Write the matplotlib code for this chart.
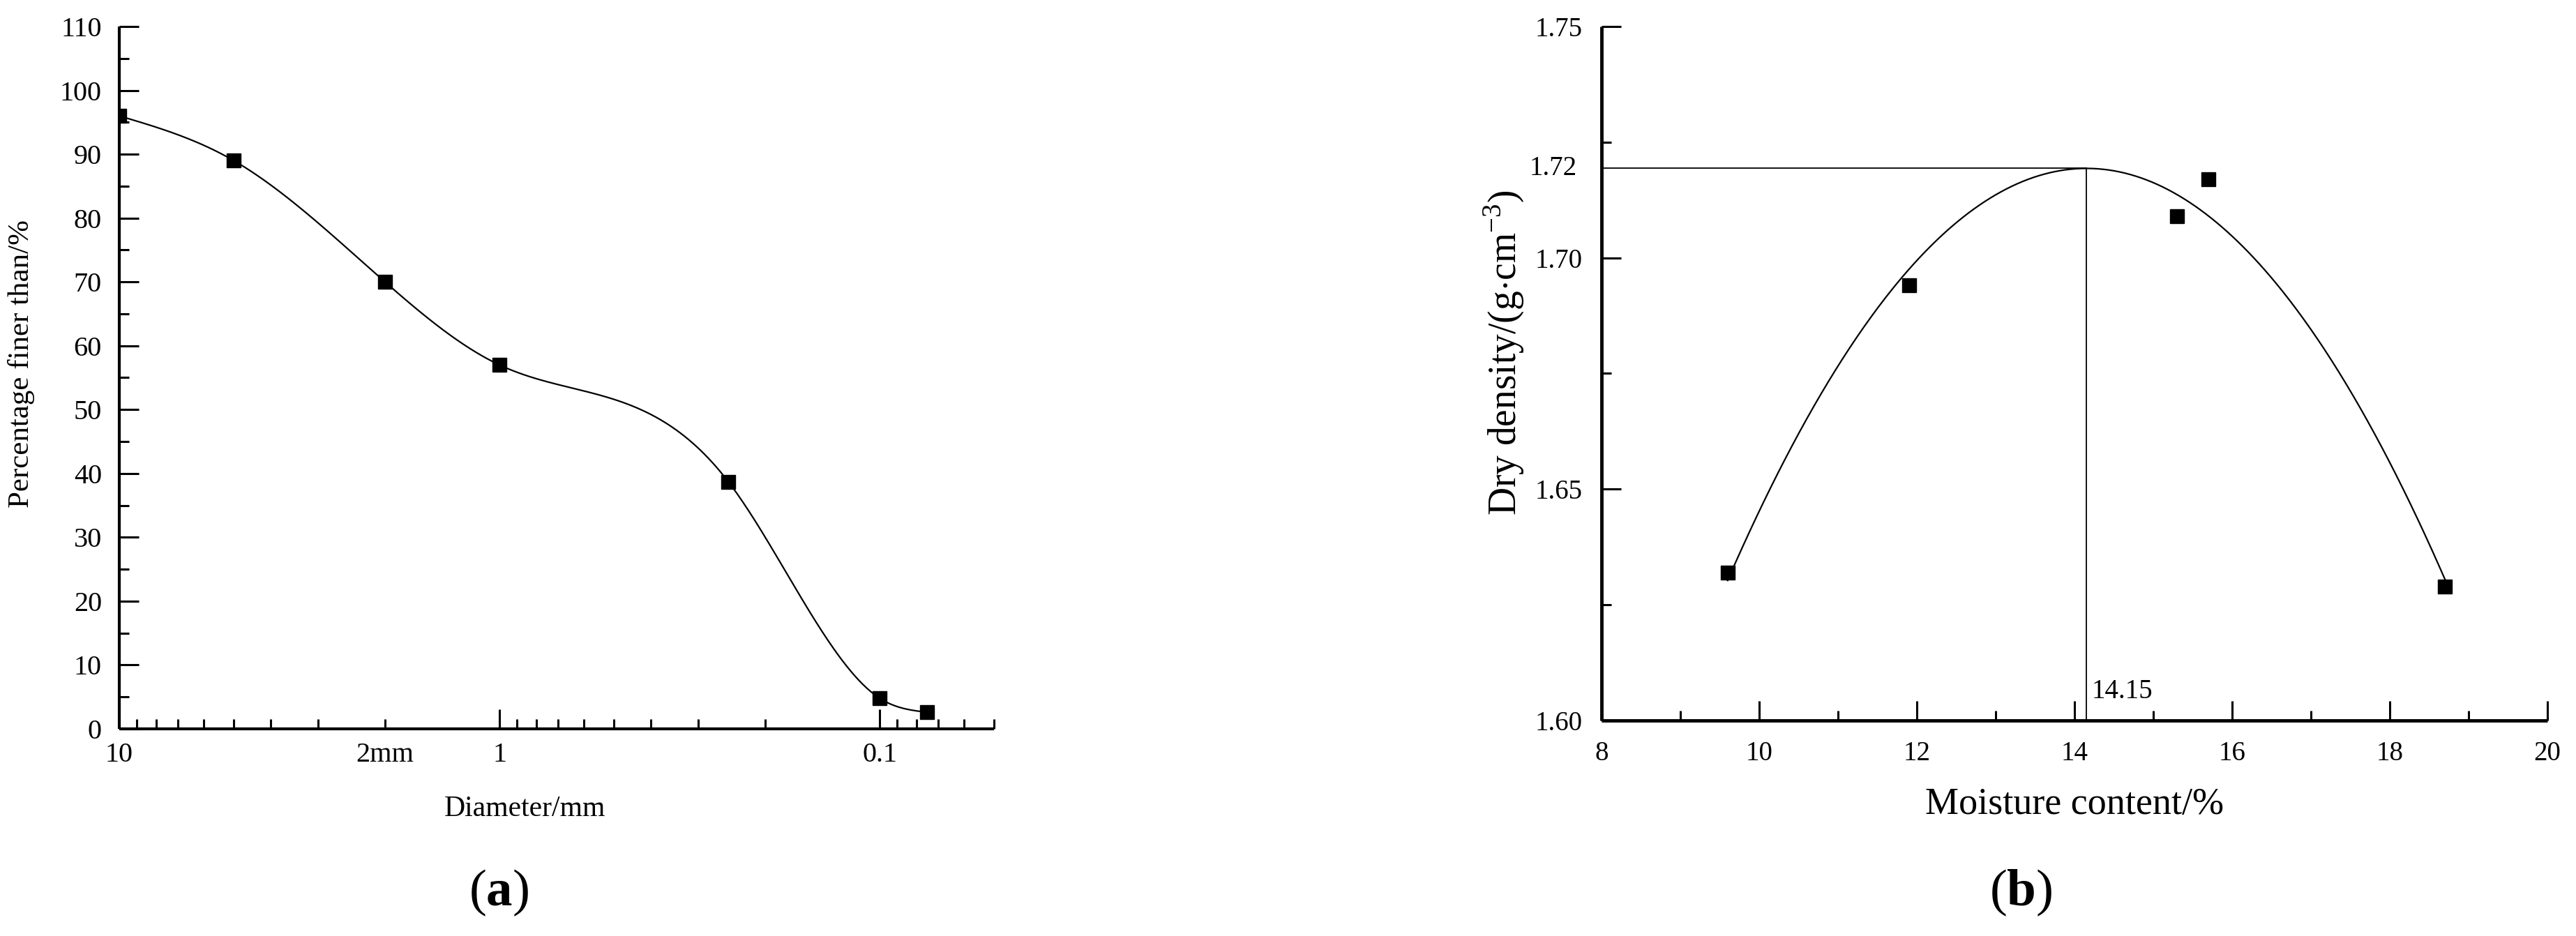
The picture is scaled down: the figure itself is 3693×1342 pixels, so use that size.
import numpy as np
import matplotlib
matplotlib.use("Agg")
import matplotlib.pyplot as plt
import matplotlib.transforms as mtransforms
from matplotlib.ticker import MultipleLocator, FixedLocator, LogLocator, NullFormatter, FormatStrFormatter

plt.rcParams["font.family"] = ["Liberation Serif", "DejaVu Serif"]
plt.rcParams["mathtext.fontset"] = "custom"
plt.rcParams["mathtext.rm"] = "Liberation Serif"
plt.rcParams["mathtext.bf"] = "Liberation Serif:bold"

# (a) grain size distribution
diameter_mm = [10, 5, 2, 1, 0.25, 0.1, 0.075]
percent_finer = [96.0, 89.0, 70.0, 57.0, 38.7, 4.8, 2.6]
diameter_ticks = [10, 2, 1, 0.1]
diameter_ticklabels = ["10", "2mm", "1", "0.1"]

# (b) compaction test
moisture = [9.6, 11.9, 15.3, 15.7, 18.7]
dry_density = [1.632, 1.694, 1.709, 1.717, 1.629]
opt_moisture = 14.15
opt_moisture_label = "14.15"
max_density_label = "1.72"


def natural_spline(x, y, xs):
    x = np.asarray(x, float)
    y = np.asarray(y, float)
    n = len(x)
    h = np.diff(x)
    A = np.zeros((n, n))
    b = np.zeros(n)
    A[0, 0] = A[-1, -1] = 1.0
    for i in range(1, n - 1):
        A[i, i - 1] = h[i - 1]
        A[i, i] = 2 * (h[i - 1] + h[i])
        A[i, i + 1] = h[i]
        b[i] = 6 * ((y[i + 1] - y[i]) / h[i] - (y[i] - y[i - 1]) / h[i - 1])
    M = np.linalg.solve(A, b)
    idx = np.clip(np.searchsorted(x, xs) - 1, 0, n - 2)
    x0, x1 = x[idx], x[idx + 1]
    hh = x1 - x0
    return (M[idx] * (x1 - xs) ** 3 / (6 * hh) + M[idx + 1] * (xs - x0) ** 3 / (6 * hh)
            + (y[idx] / hh - M[idx] * hh / 6) * (x1 - xs)
            + (y[idx + 1] / hh - M[idx + 1] * hh / 6) * (xs - x0))


def style_axes(ax, lw):
    for side in ("top", "right"):
        ax.spines[side].set_visible(False)
    for side in ("left", "bottom"):
        ax.spines[side].set_linewidth(lw)
        ax.spines[side].set_capstyle("butt")


fig = plt.figure(figsize=(36.93, 13.42), dpi=100)

# ---- panel (a)
ax1 = fig.add_axes([0.0463, 0.2213, 0.3396, 0.7504])
style_axes(ax1, 3.0)
u = -np.log10(diameter_mm)
us = np.linspace(u.min(), u.max(), 400)
ax1.plot(10 ** (-us), natural_spline(u, percent_finer, us), color="black", lw=1.6, zorder=2)
ax1.plot(diameter_mm, percent_finer, ls="none", marker="s", ms=14.5, color="black", zorder=3)
ax1.set_xscale("log")
ax1.set_xlim(10, 0.05)
ax1.set_ylim(0, 110)
ax1.xaxis.set_major_locator(FixedLocator(diameter_ticks))
ax1.set_xticklabels(diameter_ticklabels)
ax1.xaxis.set_minor_locator(LogLocator(base=10, subs=np.arange(2, 10)))
ax1.xaxis.set_minor_formatter(NullFormatter())
ax1.yaxis.set_major_locator(MultipleLocator(10))
ax1.yaxis.set_minor_locator(MultipleLocator(5))
ax1.tick_params(which="major", direction="in", length=20, width=2.2, labelsize=29)
ax1.tick_params(which="minor", direction="in", length=10, width=2.2)
ax1.tick_params(axis="y", pad=18)
ax1.tick_params(axis="x", pad=14)
for t, val in zip(ax1.xaxis.get_major_ticks(), diameter_ticks):
    if val == 2:
        t.tick1line.set_markersize(10)
ax1.set_xlabel("Diameter/mm", fontsize=30)
ax1.xaxis.label.set_va("center")
ax1.xaxis.set_label_coords(0.464, -0.114)
ax1.set_ylabel("Percentage finer than/%", fontsize=31)
ax1.yaxis.label.set_va("center")
ax1.yaxis.set_label_coords(-0.112, 0.52)

# ---- panel (b)
ax2 = fig.add_axes([0.6217, 0.2303, 0.3672, 0.7414])
style_axes(ax2, 3.5)
coef = np.polyfit(moisture, dry_density, 2)
xs = np.linspace(min(moisture), max(moisture), 400)
ax2.plot(xs, np.polyval(coef, xs), color="black", lw=1.6, zorder=2)
ax2.plot(moisture, dry_density, ls="none", marker="s", ms=14.5, color="black", zorder=3)
peak = np.polyval(coef, opt_moisture)
ax2.plot([8, opt_moisture], [peak, peak], color="black", lw=1.3, zorder=1)
ax2.plot([opt_moisture, opt_moisture], [1.60, peak], color="black", lw=1.3, zorder=1)
ax2.text(opt_moisture + 0.07, 1.6035, opt_moisture_label, fontsize=28, ha="left", va="bottom")
trans = mtransforms.blended_transform_factory(ax2.transAxes, ax2.transData)
ax2.text(-0.026, peak, max_density_label, transform=trans, fontsize=28, ha="right", va="center")
ax2.set_xlim(8, 20)
ax2.set_ylim(1.60, 1.75)
ax2.xaxis.set_major_locator(MultipleLocator(2))
ax2.xaxis.set_minor_locator(MultipleLocator(1))
ax2.yaxis.set_major_locator(MultipleLocator(0.05))
ax2.yaxis.set_minor_locator(MultipleLocator(0.025))
ax2.yaxis.set_major_formatter(FormatStrFormatter("%.2f"))
ax2.tick_params(which="major", direction="in", length=20, width=2.2, labelsize=28)
ax2.tick_params(which="minor", direction="in", length=10, width=2.2)
ax2.tick_params(axis="y", pad=20)
ax2.tick_params(axis="x", pad=21)
ax2.set_xlabel("Moisture content/%", fontsize=39)
ax2.xaxis.label.set_va("center")
ax2.xaxis.set_label_coords(0.50, -0.121)
ax2.set_ylabel(r"Dry density/(g$\cdot$cm$^{-3}$)", fontsize=40)
ax2.yaxis.label.set_va("center")
ax2.yaxis.set_label_coords(-0.1025, 0.53)

fig.text(715 / 3693, 1 - 1280 / 1342, r"($\mathbf{a}$)", fontsize=54, ha="center", va="center")
fig.text(2897 / 3693, 1 - 1280 / 1342, r"($\mathbf{b}$)", fontsize=54, ha="center", va="center")

print("vertex", -coef[1] / (2 * coef[0]), peak)
fig.savefig("out.png", dpi=100)
